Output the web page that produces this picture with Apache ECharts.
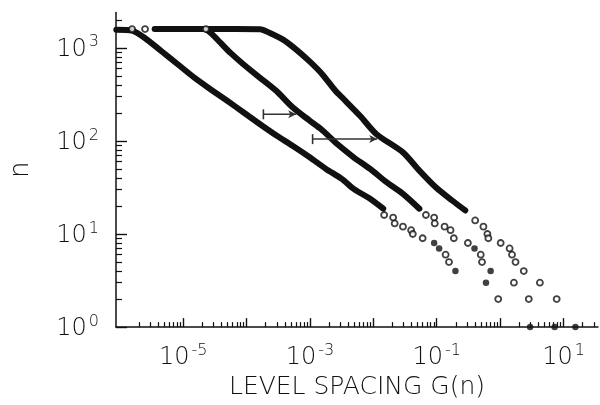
<!DOCTYPE html>
<html>
<head>
<meta charset="utf-8">
<script src="https://cdn.jsdelivr.net/npm/echarts@6/dist/echarts.min.js"></script>
<style>
  html, body { margin: 0; padding: 0; background: #fff; }
  #chart { width: 600px; height: 405px; }
</style>
</head>
<body>
<div id="chart"></div>
<script>
// level spacing G(n) vs n, three spectra
var curveAG = [8.8e-7, 1.56e-6, 2.48e-6, 4.55e-6, 8.28e-6, 1.48e-5, 2.72e-5, 5.01e-5, 8.87e-5, 1.63e-4, 3.0e-4, 5.31e-4, 9.77e-4, 1.79e-3, 3.18e-3, 4.89e-3, 8.89e-3, 1.43e-2];
var curveAN = [1560, 1530, 1276, 918, 662, 481, 357, 268, 203, 151, 113.5, 88.7, 67.1, 50, 39.1, 30.5, 23.9, 18.7];

var curveBG = [3.54e-6, 2.12e-5, 2.72e-5, 3.9e-5, 5.57e-5, 8.97e-5, 1.63e-4, 2.96e-4, 5.37e-4, 9.77e-4, 1.49e-3, 2.69e-3, 4.89e-3, 8.89e-3, 1.61e-2, 2.93e-2, 5.32e-2];
var curveBN = [1590, 1590, 1442, 1127, 881, 662, 476, 343, 228, 166, 134, 92.5, 66.7, 50, 36, 27, 18.7];

var curveCG = [2.28e-5, 1.63e-4, 2.33e-4, 3.76e-4, 6.07e-4, 9.77e-4, 1.57e-3, 2.54e-3, 3.42e-3, 6.21e-3, 1.12e-2, 2.93e-2, 5.32e-2, 9.64e-2, 0.175, 0.282];
var curveCN = [1590, 1585, 1442, 1225, 957, 718, 518, 343, 280, 185, 118, 75.3, 48, 31.8, 22.9, 17.9];

// sparse points (open circles / filled dots)
var openG = [1.56e-6, 2.5e-6, 2.28e-5,
  1.48e-2, 2.05e-2, 2.17e-2, 2.93e-2, 3.94e-2, 4.19e-2, 5.99e-2, 0.138, 0.156, 0.933,
  6.75e-2, 9.1e-2, 9.3e-2, 0.133, 0.165, 0.186, 0.310, 0.494, 0.518, 1.65, 2.83,
  0.404, 0.545, 0.630, 0.652, 1.02, 1.41, 1.54, 1.75, 2.36, 4.24, 7.8];
var openN = [1590, 1590, 1590,
  16, 15, 13, 12, 11, 10, 9, 6, 5, 2,
  16, 15, 13, 12, 11, 9, 8, 6, 5, 3, 2,
  14, 12, 10, 9, 8, 7, 6, 5, 4, 3, 2];
var filledG = [9.1e-2, 0.109, 0.197, 0.598, 2.97, 0.394, 0.708, 7.24, 15.4];
var filledN = [8, 7, 4, 3, 1, 7, 4, 1, 1];

// horizontal shift markers
var arrowFrom = [1.84e-4, 1.10e-3];
var arrowTo = [6.07e-4, 1.15e-2];
var arrowN = [193, 104.5];

var xLabelVals = [1e-5, 1e-3, 1e-1, 10];
var yLabelVals = [1, 10, 100, 1000];
var xMajor = [1e-5, 1e-4, 1e-3, 1e-2, 1e-1, 1, 10];
var yMajor = [1, 10, 100, 1000];
var xMinor = [];
for (var k = -6; k <= 1; k++) {
  for (var m = 2; m <= 9; m++) {
    var v = m * Math.pow(10, k);
    if (v < 35) xMinor.push(+v.toPrecision(3));
  }
}
var yMinor = [];
for (var k2 = 0; k2 <= 3; k2++) {
  for (var m2 = 2; m2 <= 9; m2++) {
    var w = m2 * Math.pow(10, k2);
    if (w < 2400) yMinor.push(w);
  }
}

function pairs(g, n) {
  return g.map(function (x, i) { return [x, n[i]]; });
}

var FONT = 'DejaVu Sans';
var INK = '#111';

function powLabel(v) {
  var e = Math.round(Math.log10(v));
  return '{b|10}{s|' + e + '}';
}
var labelRich = {
  b: { fontSize: 24, fontFamily: FONT, fontWeight: 200, color: INK, verticalAlign: 'bottom', lineHeight: 24 },
  s: { fontSize: 16, fontFamily: FONT, fontWeight: 200, color: INK, verticalAlign: 'bottom', padding: [0, 0, 11, 2] }
};

var xMin = 8.7e-7, xMax = 35, yMin = 1, yMax = 2400;

var chart = echarts.init(document.getElementById('chart'));

var arrowSeries = arrowFrom.map(function (g0, i) {
  return {
    type: 'line',
    data: [
      { value: [g0, arrowN[i]], symbol: 'rect', symbolSize: [1.6, 10] },
      { value: [arrowTo[i], arrowN[i]], symbol: 'arrow', symbolSize: [6, 8], symbolRotate: -90 }
    ],
    lineStyle: { color: '#333', width: 1.5 },
    itemStyle: { color: '#333' },
    z: 4,
    silent: true
  };
});

var bodyLine = function (g, n) {
  return {
    type: 'line',
    data: pairs(g, n),
    showSymbol: false,
    symbol: 'none',
    smooth: 0.25,
    lineStyle: { color: INK, width: 6, cap: 'round', join: 'round' },
    z: 3,
    silent: true
  };
};

var option = {
  animation: false,
  backgroundColor: '#fff',
  grid: { left: 109, right: 2, top: 12.4, bottom: 76 },
  xAxis: [{
    type: 'log',
    logBase: 10,
    min: xMin,
    max: xMax,
    axisLine: { show: true, lineStyle: { color: INK, width: 1.5 } },
    axisTick: { show: true, inside: true, length: 5, customValues: xMinor, lineStyle: { color: INK, width: 1.2 } },
    axisLabel: { show: true, customValues: xLabelVals, formatter: powLabel, rich: labelRich, margin: 16 },
    splitLine: { show: false },
    name: 'LEVEL SPACING G(n)',
    nameLocation: 'middle',
    nameGap: 46,
    nameTextStyle: { fontSize: 25, fontFamily: FONT, fontWeight: 200, color: INK }
  }, {
    type: 'log',
    logBase: 10,
    min: xMin,
    max: xMax,
    position: 'bottom',
    axisLine: { show: false },
    axisTick: { show: true, inside: true, length: 9, customValues: xMajor, lineStyle: { color: INK, width: 1.4 } },
    axisLabel: { show: false },
    splitLine: { show: false }
  }],
  yAxis: [{
    type: 'log',
    logBase: 10,
    min: yMin,
    max: yMax,
    axisLine: { show: true, lineStyle: { color: INK, width: 1.5 } },
    axisTick: { show: true, inside: true, length: 6, customValues: yMinor, lineStyle: { color: INK, width: 1.2 } },
    axisLabel: { show: true, customValues: yLabelVals, formatter: powLabel, rich: labelRich, margin: 17 },
    splitLine: { show: false },
    name: 'n',
    nameLocation: 'middle',
    nameGap: 82,
    nameRotate: 90,
    nameTextStyle: { fontSize: 26, fontFamily: FONT, fontWeight: 200, color: INK }
  }, {
    type: 'log',
    logBase: 10,
    min: yMin,
    max: yMax,
    position: 'left',
    axisLine: { show: false },
    axisTick: { show: true, inside: true, length: 11, customValues: yMajor, lineStyle: { color: INK, width: 1.4 } },
    axisLabel: { show: false },
    splitLine: { show: false }
  }],
  series: [
    bodyLine(curveAG, curveAN),
    bodyLine(curveBG, curveBN),
    bodyLine(curveCG, curveCN),
    {
      type: 'scatter',
      data: pairs(openG, openN),
      symbol: 'circle',
      symbolSize: 6,
      itemStyle: { color: '#fff', borderColor: INK, borderWidth: 1.8 },
      z: 5,
      silent: true
    },
    {
      type: 'scatter',
      data: pairs(filledG, filledN),
      symbol: 'circle',
      symbolSize: 6.5,
      itemStyle: { color: INK },
      z: 5,
      silent: true
    }
  ].concat(arrowSeries)
};

chart.setOption(option);
</script>
</body>
</html>
